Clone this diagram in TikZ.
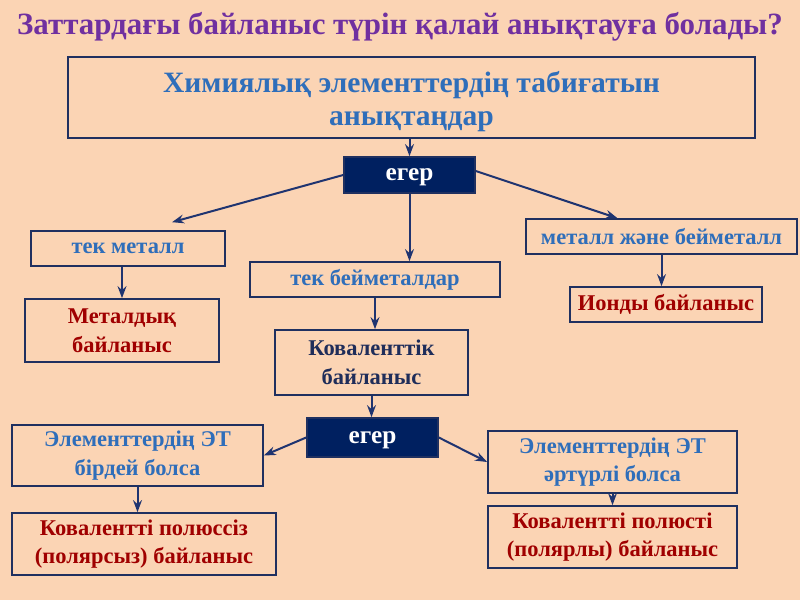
\documentclass[tikz,border=0pt]{standalone}
\usepackage{fontspec}
\setmainfont{Liberation Serif}
\usetikzlibrary{arrows.meta}
\definecolor{bgpeach}{HTML}{FBD4B4}
\definecolor{titlepurple}{HTML}{7030A0}
\definecolor{textblue}{HTML}{2F6EBA}
\definecolor{textred}{HTML}{A00000}
\definecolor{textnavy}{HTML}{1F2D5A}
\definecolor{ifnavy}{HTML}{002060}
\definecolor{boxline}{HTML}{1F3060}
\definecolor{linkblue}{HTML}{1F3470}
\tikzset{
  box/.style={draw=boxline, line width=0.04cm, fill=bgpeach, align=center, inner sep=0pt,
    font=\fontsize{16}{20.5}\selectfont\bfseries},
  ifbox/.style={box, fill=ifnavy, text=white, font=\fontsize{18}{20}\selectfont\bfseries,
    text height=1em, text depth=0.2em},
  link/.style={draw=linkblue, line width=0.05cm, -{Stealth[length=0.3cm,width=0.22cm]}}
}
\begin{document}
\begin{tikzpicture}[x=0.025cm,y=-0.025cm]
% Page and background
\useasboundingbox (0,0) rectangle (800,600);
\fill [bgpeach] (0,0) rectangle (800,600);

% Title
\node [text=titlepurple, font=\fontsize{22}{26}\selectfont\bfseries] (title) at (400,27)
  {Заттардағы байланыс түрін қалай анықтауға болады?};

% Top box
\node [box, text=textblue, font=\fontsize{21}{23.5}\selectfont\bfseries,
  minimum width=17.175cm, minimum height=2.025cm] (top) at (411.5,97.5)
  {\rule{0pt}{20.5pt}Химиялық элементтердің табиғатын\\анықтаңдар};

% First condition
\node [ifbox, minimum width=3.275cm, minimum height=0.9cm] (ifa) at (409.5,175) {егер};

% Three branches
\node [box, text=textblue, minimum width=4.85cm, minimum height=0.875cm] (metal) at (128,248.5) {тек металл};
\node [box, text=textblue, minimum width=6.25cm, minimum height=0.875cm] (nonmet) at (375,279.5) {тек бейметалдар};
\node [box, text=textblue, minimum width=6.775cm, minimum height=0.875cm] (mixed) at (661.5,236.5) {металл және бейметалл};

% Bond types
\node [box, text=textred, minimum width=4.85cm, minimum height=1.575cm] (metbond) at (122,330.5) {Металдық\\байланыс};
\node [box, text=textnavy, minimum width=4.825cm, minimum height=1.625cm] (covbond) at (371.5,362.5) {Коваленттік\\байланыс};
\node [box, text=textred, minimum width=4.8cm, minimum height=0.875cm] (ionbond) at (666,304.5) {Ионды байланыс};

% Second condition
\node [ifbox, minimum width=3.275cm, minimum height=0.975cm] (ifb) at (372.5,437.5) {егер};

% Electronegativity cases
\node [box, text=textblue, minimum width=6.275cm, minimum height=1.525cm] (same) at (137.5,455.5) {Элементтердің ЭТ\\бірдей болса};
\node [box, text=textblue, minimum width=6.225cm, minimum height=1.55cm] (diff) at (612.5,462) {Элементтердің ЭТ\\әртүрлі болса};

% Covalent bond kinds
\node [box, text=textred, minimum width=6.6cm, minimum height=1.55cm] (nonpolar) at (144,544) {Ковалентті полюссіз\\(полярсыз) байланыс};
\node [box, text=textred, minimum width=6.225cm, minimum height=1.55cm] (polar) at (612.5,537) {Ковалентті полюсті\\(полярлы) байланыс};

% Arrows
\draw [link] (ifa.north |- top.south) -- (ifa.north);
\draw [link] (ifa.west) -- ([xshift=1.1cm,yshift=0.2cm]metal.north);
\draw [link] (ifa.south) -- (ifa.south |- nonmet.north);
\draw [link] ([yshift=0.1cm]ifa.east) -- ([xshift=-1.1cm]mixed.north);
\draw [link] (metbond.north |- metal.south) -- (metbond.north);
\draw [link] (nonmet.south) -- (nonmet.south |- covbond.north);
\draw [link] (mixed.south) -- (mixed.south |- ionbond.north);
\draw [link] (covbond.south) -- (covbond.south |- ifb.north);
\draw [link] (ifb.west) -- (same.east);
\draw [link] (ifb.east) -- (diff.west);
\draw [link] (same.south) -- (same.south |- nonpolar.north);
\draw [link] (diff.south) -- (polar.north);
\end{tikzpicture}
\end{document}
